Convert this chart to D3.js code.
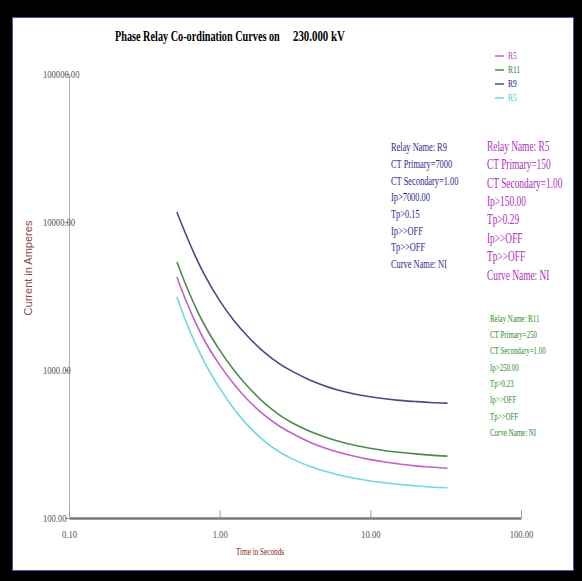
<!DOCTYPE html>
<html lang="en">
<head>
  <meta charset="UTF-8">
  <title>Phase Relay Co-ordination Curves</title>
  <style>
    body {
      margin: 0;
      padding: 0;
      background-color: #000;
    }
    svg {
      display: block;
    }
    .serif {
      font-family: "Liberation Serif", "Times New Roman", serif;
    }
  </style>
</head>
<body>
<div id="chart"></div>
<script src="https://d3js.org/d3.v7.min.js"></script>
<script>
  // time values (seconds) shared by all four relay curves
  const times = [0.52, 0.6, 0.7, 0.8, 1.0, 1.25, 1.5, 2, 2.5, 3, 4, 5, 6, 8, 10, 12.5, 15, 20, 25, 32.5];

  // currents (A)
  const r9Values  = [11690, 8130, 5680, 4320, 2940, 2140, 1730, 1307, 1101, 986, 852, 780, 736, 686, 659, 639, 626, 612, 603, 597];
  const r11Values = [5370, 3706, 2591, 1983, 1363, 992, 794, 592, 496, 442, 384, 353, 333, 309, 296, 285, 279, 271, 266, 262];
  const r5Values  = [4250, 2912, 2036, 1558, 1083, 797, 644, 491, 417, 375, 324, 297, 280, 260, 248, 239, 233, 225, 221, 217];
  const cyanValues = [3113, 2104, 1460, 1110, 755, 543, 434, 328, 279, 252, 223, 207, 197, 185, 178, 173, 169, 165, 162, 160];

  const seriesNames = ["R5", "R11", "R9", "R5"];
  const seriesColors = ["#c060c8", "#4e8a4e", "#4a4a80", "#70d8d8"];
  const legendColors = ["#b040c0", "#2e8b2e", "#20208a", "#40d0d0"];

  const xTicks = [0.1, 1, 10, 100];
  const yTicks = [100, 1000, 10000, 100000];

  const r9Info = ["Relay Name: R9", "CT Primary=7000", "CT Secondary=1.00", "Ip>7000.00", "Tp>0.15", "Ip>>OFF", "Tp>>OFF", "Curve Name: NI"];
  const r5Info = ["Relay Name: R5", "CT Primary=150", "CT Secondary=1.00", "Ip>150.00", "Tp>0.29", "Ip>>OFF", "Tp>>OFF", "Curve Name: NI"];
  const r11Info = ["Relay Name: R11", "CT Primary=250", "CT Secondary=1.00", "Ip>250.00", "Tp>0.23", "Ip>>OFF", "Tp>>OFF", "Curve Name: NI"];

  const width = 582;
  const height = 581;

  const svg = d3.select("#chart").append("svg")
          .attr("width", width)
          .attr("height", height);

  // black frame + white panel
  svg.append("rect").attr("width", width).attr("height", height).attr("fill", "#000");
  svg.append("rect")
          .attr("x", 12.5).attr("y", 17.5)
          .attr("width", 561).attr("height", 553)
          .attr("fill", "#fff")
          .attr("stroke", "#5050a8")
          .attr("stroke-width", 1);

  // squeeze text horizontally (source picture is condensed)
  function condense(sel, f) {
    sel.each(function() {
      const x = +this.getAttribute("x") || 0;
      this.setAttribute("x", x / f);
      this.setAttribute("transform", `scale(${f},1)`);
    });
  }
  // squeeze a text to a given width
  function fitWidth(sel, w) {
    sel.each(function() {
      const f = w / this.getComputedTextLength();
      d3.select(this).call(condense, f);
    });
  }

  const xScale = d3.scaleLog().domain([0.1, 100]).range([69, 521]);
  const yScale = d3.scaleLog().domain([100, 100000]).range([518, 74]);
  const fmt = d3.format(".2f");

  // y axis
  const yAxis = svg.append("g")
          .attr("transform", "translate(69,0)")
          .call(d3.axisLeft(yScale).tickValues(yTicks).tickFormat(fmt).tickSizeInner(4).tickSizeOuter(0));
  yAxis.select(".domain").attr("stroke", "#b0b0b0");
  yAxis.selectAll(".tick line").attr("stroke", "#909090");
  yAxis.selectAll(".tick text")
          .attr("class", "serif")
          .attr("x", -26)
          .attr("text-anchor", "start")
          .attr("font-size", 11)
          .attr("fill", "#505050")
          .call(condense, 0.78);

  // x axis
  const xAxis = svg.append("g")
          .attr("transform", "translate(0,518)")
          .call(d3.axisBottom(xScale).tickValues(xTicks).tickFormat(fmt).tickSizeInner(-8).tickSizeOuter(0).tickPadding(12));
  xAxis.select(".domain").attr("stroke", "#7a7a7a").attr("stroke-width", 2.5);
  xAxis.selectAll(".tick line").attr("stroke", "#a0a0a0");
  xAxis.selectAll(".tick text")
          .attr("class", "serif")
          .attr("font-size", 11)
          .attr("fill", "#505050")
          .call(condense, 0.78);

  // axis titles
  svg.append("text")
          .attr("class", "serif")
          .attr("x", 260).attr("y", 555)
          .attr("text-anchor", "middle")
          .attr("font-size", 10)
          .attr("fill", "#8b2020")
          .text("Time in Seconds")
          .call(condense, 0.72);

  svg.append("text")
          .attr("transform", "translate(32,268) rotate(-90)")
          .attr("text-anchor", "middle")
          .attr("font-family", "Liberation Sans, Arial, sans-serif")
          .attr("font-size", 11)
          .attr("fill", "#8b4a4a")
          .text("Current in Amperes");

  // title
  svg.append("text")
          .attr("class", "serif")
          .attr("x", 115).attr("y", 41)
          .attr("font-size", 14)
          .attr("font-weight", "bold")
          .text("Phase Relay Co-ordination Curves on")
          .call(fitWidth, 165);
  svg.append("text")
          .attr("class", "serif")
          .attr("x", 293).attr("y", 41)
          .attr("font-size", 14)
          .attr("font-weight", "bold")
          .text("230.000 kV")
          .call(fitWidth, 52);

  // curves
  const allSeries = [r5Values, r11Values, r9Values, cyanValues];
  const line = d3.line()
          .x(d => xScale(d[0]))
          .y(d => yScale(d[1]))
          .curve(d3.curveMonotoneX);

  allSeries.forEach((vals, i) => {
    svg.append("path")
            .datum(times.map((t, j) => [t, vals[j]]))
            .attr("fill", "none")
            .attr("stroke", seriesColors[i])
            .attr("stroke-width", 1.6)
            .attr("d", line);
  });

  // legend
  const legend = svg.append("g");
  seriesNames.forEach((name, i) => {
    const ly = 56 + i * 14;
    legend.append("line")
            .attr("x1", 495).attr("x2", 504)
            .attr("y1", ly).attr("y2", ly)
            .attr("stroke", seriesColors[i])
            .attr("stroke-width", 1.5);
    legend.append("text")
            .attr("class", "serif")
            .attr("x", 508).attr("y", ly + 3.5)
            .attr("font-size", 10)
            .attr("fill", legendColors[i])
            .text(name)
            .call(condense, 0.75);
  });

  // relay info blocks
  function infoBlock(lines, x, y0, step, size, color, f) {
    const g = svg.append("g");
    lines.forEach((s, i) => {
      g.append("text")
              .attr("class", "serif")
              .attr("x", x)
              .attr("y", y0 + i * step)
              .attr("dy", "0.35em")
              .attr("font-size", size)
              .attr("fill", color)
              .text(s)
              .call(condense, f);
    });
  }

  infoBlock(r9Info, 391, 147, 16.7, 12, "#2b2b8c", 0.7);
  infoBlock(r5Info, 487, 146, 18.4, 14, "#b02cc0", 0.67);
  infoBlock(r11Info, 490, 318, 16.3, 11, "#2e8b2e", 0.63);
</script>
</body>
</html>
